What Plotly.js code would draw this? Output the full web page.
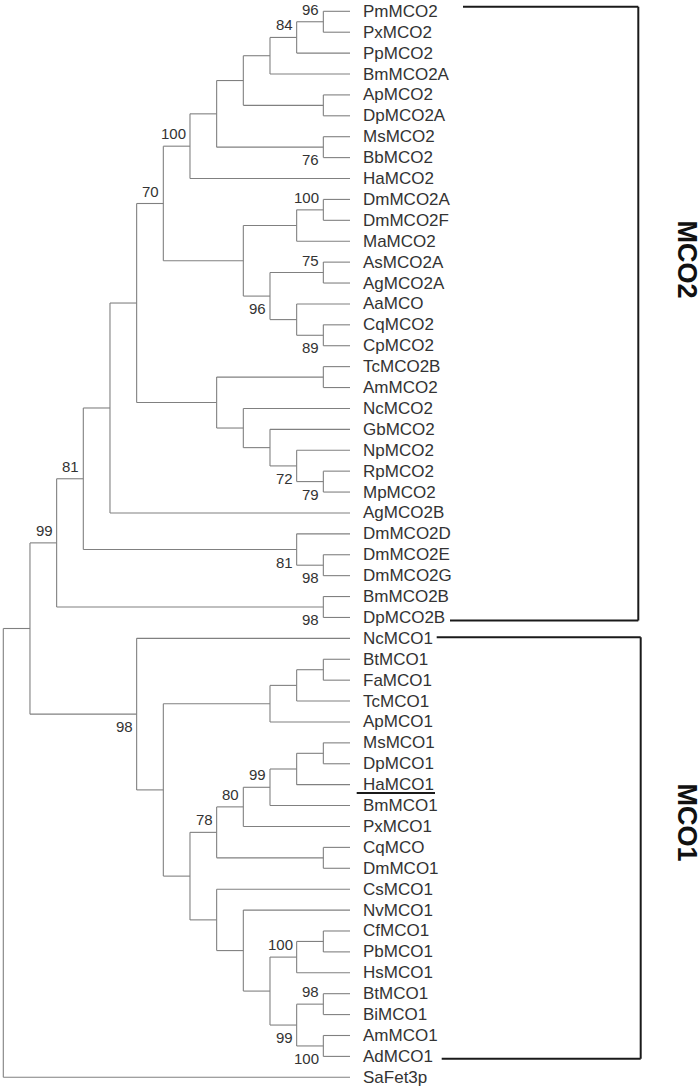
<!DOCTYPE html>
<html><head><meta charset="utf-8">
<script src="https://cdn.plot.ly/plotly-3.0.1.min.js"></script>
<style>html,body{margin:0;padding:0;background:#fff}</style>
</head><body><div id="chart" style="width:700px;height:1088px"></div>
<script>
// ---------- DATA ----------
const leafNames = [
  'PmMCO2','PxMCO2','PpMCO2','BmMCO2A','ApMCO2','DpMCO2A','MsMCO2','BbMCO2','HaMCO2',
  'DmMCO2A','DmMCO2F','MaMCO2','AsMCO2A','AgMCO2A','AaMCO','CqMCO2','CpMCO2',
  'TcMCO2B','AmMCO2','NcMCO2','GbMCO2','NpMCO2','RpMCO2','MpMCO2','AgMCO2B',
  'DmMCO2D','DmMCO2E','DmMCO2G','BmMCO2B','DpMCO2B',
  'NcMCO1','BtMCO1','FaMCO1','TcMCO1','ApMCO1','MsMCO1','DpMCO1','HaMCO1','BmMCO1','PxMCO1',
  'CqMCO','DmMCO1','CsMCO1','NvMCO1','CfMCO1','PbMCO1','HsMCO1','BtMCO1','BiMCO1','AmMCO1','AdMCO1',
  'SaFet3p'
];
const leafLevel = 13;

// internal nodes (children: number = leaf index, string = node id)
const nodeIds = ['n1','n2','n3','n4','n5','n6','n7','n8','n9','n10','n11','n12','n13','n14','n15','n16','n17','n18','n19','n20','n21','n22','n23','n24','n25','n26','n27','n28','n29','n30','n31','n32','n33','n34','n35','n36','n37','n38','n39','n40','n41','n42','n43','n44','n45','n46','n47','n48','n49','n50','n51'];
const nodeLevels = [12,11,10,12,9,12,8,7,12,11,12,12,11,10,9,6,12,12,11,10,9,8,5,4,12,11,3,12,2,12,11,10,12,11,10,9,12,8,12,11,12,12,11,10,9,8,7,6,5,1,0];
const nodeChildren = [
  [0,1],['n1',2],['n2',3],[4,5],['n3','n4'],[6,7],['n5','n6'],['n7',8],
  [9,10],['n9',11],[12,13],[15,16],[14,'n12'],['n11','n13'],['n10','n14'],['n8','n15'],
  [17,18],[22,23],[21,'n18'],[20,'n19'],[19,'n20'],['n17','n21'],['n16','n22'],['n23',24],
  [26,27],[25,'n25'],['n24','n26'],[28,29],['n27','n28'],
  [31,32],['n30',33],['n31',34],[35,36],['n33',37],['n34',38],['n35',39],[40,41],['n36','n37'],
  [44,45],['n39',46],[47,48],[49,50],['n41','n42'],['n40','n43'],[43,'n44'],[42,'n45'],['n38','n46'],
  ['n32','n47'],[30,'n48'],['n29','n49'],['n50',51]
];
const nodeSupport = ['96','84','','','','76','','100','100','','75','89','','96','','70','','79','72','','','','','','98','81','81','98','99','','','','','','99','80','','78','','100','98','100','99','','','','','','98','',''];
const supportSide = ['a','a','','','','b','','a','a','','a','b','','b','','a','','b','b','','','','','','b','b','a','b','a','','','','','','a','a','','a','','a','a','b','b','','','','','','b','',''];

const cladeNames = ['MCO2','MCO1'];
const cladeFirstLeaf = [0, 30];
const cladeLastLeaf = [29, 50];
const underlinedLeaves = [37];

// ---------- LAYOUT / STYLE ----------
const W = 700, H = 1088;
const pxPerLevel = (350 - 3.3) / 13;
const xr0 = -3.3 / pxPerLevel, xr1 = xr0 + W / pxPerLevel;
const pxPerLeaf = (1077.3 - 11.3) / 51;
const yTop = -11.3 / pxPerLeaf, yBot = yTop + H / pxPerLeaf;
const pxToX = px => xr0 + px / pxPerLevel;
const pxToDy = px => px / pxPerLeaf;

const FONT = 'Liberation Sans, Arial, Helvetica, sans-serif';
const TXT = '#333333';
const LINE = '#808080';

const cladeStyle = [
  {topStart: 463, botStart: 450, vx: 638.3, topOff: -4.6, botOff: 3.0, textY: 259},
  {topStart: 436.7, botStart: 441.7, vx: 640.7, topOff: -1.2, botOff: 2.3, textY: 822}
];

// ---------- BUILD ----------
const nodeIndex = {};
nodeIds.forEach((id, i) => nodeIndex[id] = i);
const nodeY = new Array(nodeIds.length);
function posOf(c) {
  if (typeof c === 'number') return {x: leafLevel, y: c};
  const i = nodeIndex[c];
  return {x: nodeLevels[i], y: nodeY[i]};
}
nodeIds.forEach((id, i) => {
  const ch = nodeChildren[i].map(posOf);
  nodeY[i] = (ch[0].y + ch[ch.length - 1].y) / 2;
});

const lx = [], ly = [];
nodeIds.forEach((id, i) => {
  const ch = nodeChildren[i].map(posOf);
  const x = nodeLevels[i];
  lx.push(x, x, null); ly.push(ch[0].y, ch[ch.length - 1].y, null);
  ch.forEach(c => { lx.push(x, c.x, null); ly.push(c.y, c.y, null); });
});

const annotations = [];
leafNames.forEach((nm, i) => {
  annotations.push({x: leafLevel, y: i, xref: 'x', yref: 'y', text: nm, showarrow: false,
    xanchor: 'left', yanchor: 'middle', xshift: 11, font: {family: FONT, size: 17, color: TXT}});
});
nodeIds.forEach((id, i) => {
  if (!nodeSupport[i]) return;
  const above = supportSide[i] === 'a';
  annotations.push({x: nodeLevels[i], y: nodeY[i], xref: 'x', yref: 'y', text: nodeSupport[i], showarrow: false,
    xanchor: 'right', yanchor: above ? 'bottom' : 'top', xshift: -2, yshift: above ? 2 : -2,
    font: {family: FONT, size: 15, color: TXT}});
});

const shapes = [];
cladeNames.forEach((nm, k) => {
  const s = cladeStyle[k];
  const y0 = cladeFirstLeaf[k] + pxToDy(s.topOff), y1 = cladeLastLeaf[k] + pxToDy(s.botOff);
  const vx = pxToX(s.vx);
  const st = {color: '#1a1a1a', width: 2};
  shapes.push({type: 'line', xref: 'x', yref: 'y', x0: pxToX(s.topStart), x1: vx, y0: y0, y1: y0, line: st});
  shapes.push({type: 'line', xref: 'x', yref: 'y', x0: vx, x1: vx, y0: y0, y1: y1, line: st});
  shapes.push({type: 'line', xref: 'x', yref: 'y', x0: pxToX(s.botStart), x1: vx, y0: y1, y1: y1, line: st});
  annotations.push({x: pxToX(686.5), y: yTop + pxToDy(s.textY), xref: 'x', yref: 'y', text: '<b>' + nm + '</b>',
    showarrow: false, textangle: 90, xanchor: 'center', yanchor: 'middle',
    font: {family: FONT, size: 27, color: '#111'}});
});
underlinedLeaves.forEach(i => {
  const y = i + pxToDy(8.4);
  shapes.push({type: 'line', xref: 'x', yref: 'y', x0: pxToX(356.7), x1: pxToX(435), y0: y, y1: y,
    line: {color: '#1a1a1a', width: 2}});
});

const traces = [{x: lx, y: ly, type: 'scatter', mode: 'lines', line: {color: LINE, width: 1.1},
  hoverinfo: 'skip', showlegend: false}];

const layout = {
  width: W, height: H, margin: {l: 0, r: 0, t: 0, b: 0},
  paper_bgcolor: '#fff', plot_bgcolor: '#fff', showlegend: false,
  xaxis: {range: [xr0, xr1], visible: false, fixedrange: true},
  yaxis: {range: [yBot, yTop], visible: false, fixedrange: true},
  annotations: annotations, shapes: shapes
};
Plotly.newPlot('chart', traces, layout, {displayModeBar: false, staticPlot: true});
</script></body></html>
